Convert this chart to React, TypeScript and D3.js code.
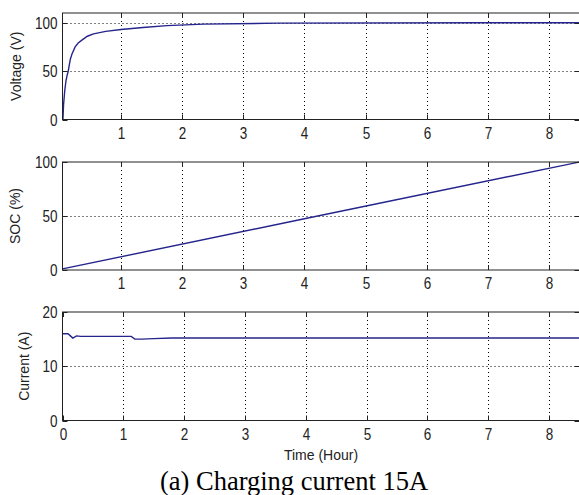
import React from 'react';
import * as d3 from 'd3';

// Voltage (V) vs time (hour)
const voltTime = [0.05, 0.06, 0.08, 0.1, 0.12, 0.137, 0.17, 0.2, 0.25, 0.3, 0.36, 0.45, 0.55, 0.75, 1.0, 1.36, 1.75, 2.35, 3.55, 6.9, 8.5];
const voltValue = [0, 15, 30, 40, 46, 50, 62, 68, 75, 79, 82, 86, 88.5, 91, 93, 95, 97, 98.5, 99.5, 100, 100];

// SOC (%) vs time
const socTime = [0.043, 4, 8.5];
const socValue = [1, 47.5, 100];

// Current (A) vs time
const curTime = [0, 0.09, 0.13, 0.17, 0.23, 0.3, 1.13, 1.19, 1.3, 1.5, 1.8, 8.5];
const curValue = [16.0, 16.0, 15.6, 15.2, 15.6, 15.5, 15.5, 15.0, 15.0, 15.1, 15.2, 15.2];

const xTicks = [0, 1, 2, 3, 4, 5, 6, 7, 8];
const voltTicks = [0, 50, 100];
const socTicks = [0, 50, 100];
const curTicks = [0, 10, 20];

const sans = '"Liberation Sans", Arial, sans-serif';
const lineColor = '#24248c';
const axisColor = '#222';

type PanelProps = {
  top: number;
  bottom: number;
  xDomain: [number, number];
  yDomain: [number, number];
  yTicks: number[];
  label: string;
  labelX: number;
  xs: number[];
  ys: number[];
};

const LEFT = 62.5;
const RIGHT = 579.5;

// MATLAB-ish narrow, tall digits
const TickText = ({ x, y, anchor, children }: { x: number; y: number; anchor: string; children: React.ReactNode }) => (
  <text transform={`translate(${x},${y}) scale(1,1.18)`} textAnchor={anchor} dy="0.35em"
    fontFamily={sans} fontSize={13.5} fill={axisColor}>{children}</text>
);

const Panel = ({ top, bottom, xDomain, yDomain, yTicks, label, labelX, xs, ys }: PanelProps) => {
  const x = d3.scaleLinear().domain(xDomain).range([LEFT, RIGHT]);
  const y = d3.scaleLinear().domain(yDomain).range([bottom, top]);
  const xt = xTicks.filter(t => t >= xDomain[0] && t <= xDomain[1]);
  const line = d3.line<number>()
    .x((d, i) => x(xs[i]))
    .y(d => y(d));
  const tl = 5;
  return (
    <g>
      {/* grid */}
      {xt.filter(t => x(t) > LEFT + 1 && x(t) < RIGHT - 1).map(t => (
        <line key={'gx' + t} x1={Math.round(x(t)) + 0.5} x2={Math.round(x(t)) + 0.5} y1={top} y2={bottom}
          stroke="#000" strokeDasharray="1,3" strokeWidth={1} />
      ))}
      {yTicks.filter(t => y(t) > top + 1 && y(t) < bottom - 1).map(t => (
        <line key={'gy' + t} x1={LEFT} x2={RIGHT} y1={Math.round(y(t)) + 0.5} y2={Math.round(y(t)) + 0.5}
          stroke="#000" strokeDasharray="1,3" strokeWidth={1} />
      ))}
      {/* data */}
      <path d={line(ys) || ''} fill="none" stroke={lineColor} strokeWidth={1.4} />
      {/* frame */}
      <rect x={LEFT} y={top} width={RIGHT - LEFT} height={bottom - top} fill="none" stroke={axisColor} strokeWidth={1} />
      {/* ticks */}
      {xt.map(t => {
        const px = Math.round(x(t)) + 0.5;
        return (
          <g key={'tx' + t}>
            <line x1={px} x2={px} y1={bottom} y2={bottom - tl} stroke={axisColor} />
            <line x1={px} x2={px} y1={top} y2={top + tl} stroke={axisColor} />
            <TickText x={px} y={bottom + 13.5} anchor="middle">{t}</TickText>
          </g>
        );
      })}
      {yTicks.map(t => {
        const py = Math.round(y(t)) + 0.5;
        return (
          <g key={'ty' + t}>
            <line x1={LEFT} x2={LEFT + tl} y1={py} y2={py} stroke={axisColor} />
            <line x1={RIGHT} x2={RIGHT - tl} y1={py} y2={py} stroke={axisColor} />
            <TickText x={LEFT - 5} y={py} anchor="end">{t}</TickText>
          </g>
        );
      })}
      <text transform={`translate(${labelX},${(top + bottom) / 2}) rotate(-90)`} textAnchor="middle"
        dy="0.35em" fontFamily={sans} fontSize={14} fill={axisColor}>{label}</text>
    </g>
  );
};

export default function App() {
  return (
    <svg width={579} height={495} style={{ position: 'absolute', left: 0, top: 0, background: '#fff' }}>
      <Panel top={13} bottom={119.5} xDomain={[0.043, 8.5]} yDomain={[0, 110]} yTicks={voltTicks}
        label="Voltage (V)" labelX={16} xs={voltTime} ys={voltValue} />
      <Panel top={162} bottom={270} xDomain={[0.043, 8.5]} yDomain={[0, 100]} yTicks={socTicks}
        label="SOC (%)" labelX={15} xs={socTime} ys={socValue} />
      <Panel top={312} bottom={420.5} xDomain={[0, 8.5]} yDomain={[0, 20]} yTicks={curTicks}
        label="Current (A)" labelX={24} xs={curTime} ys={curValue} />
      <text x={321} y={460} textAnchor="middle" fontFamily={sans} fontSize={14} fill={axisColor}>Time (Hour)</text>
      <text x={294} y={490} textAnchor="middle" fontFamily={'"Liberation Serif", "Times New Roman", serif'}
        fontSize={26.5} fill="#000">(a) Charging current 15A</text>
    </svg>
  );
}
